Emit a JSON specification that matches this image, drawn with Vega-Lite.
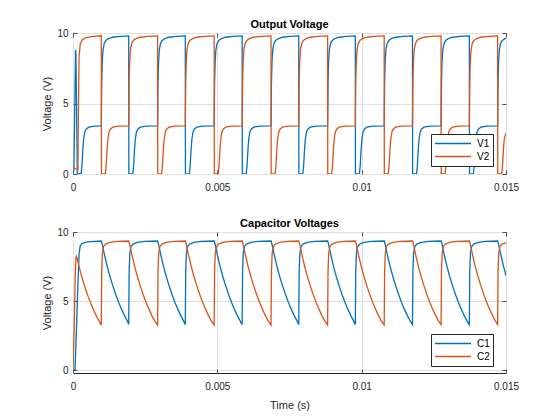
{
"$schema":"https://vega.github.io/schema/vega-lite/v6.json",
"background":"white",
"padding":{"left":41,"top":18,"right":5,"bottom":5},
"config":{
"font":"Liberation Sans",
"view":{"stroke":"#262626","strokeWidth":1},
"axis":{"labelFont":"Liberation Sans","labelFontSize":10,"labelColor":"#262626","titleFont":"Liberation Sans","titleFontSize":11,"titleFontWeight":"normal","titleColor":"#262626","domain":false,"tickColor":"#262626","tickSize":-4,"tickWidth":0.8,"labelPadding":9,"gridColor":"#e0e0e0","gridWidth":1,"labelFlush":false,"labelOverlap":false,"labelExpr":"'' + datum.value"},
"axisX":{"labelPadding":12,"titlePadding":8},
"title":{"font":"Liberation Sans","fontSize":11,"fontWeight":"bold","color":"black","offset":-2},
"legend":{"strokeColor":"#262626","fillColor":"white","padding":3,"labelFont":"Liberation Sans","labelFontSize":10,"labelColor":"black","symbolSize":1296,"symbolStrokeWidth":1.3,"clipHeight":13,"rowPadding":0,"labelOffset":5}
},
"spacing":24,
"resolve":{"scale":{"color":"independent"}},
"datasets":{
"out":[
{"t":0,"v":0,"s":"V1"},{"t":0.00003,"v":0.3,"s":"V1"},{"t":0.00009,"v":8.8,"s":"V1"},{"t":0.0001,"v":8.6,"s":"V1"},{"t":0.00015,"v":0.05,"s":"V1"},{"t":0.00028,"v":0,"s":"V1"},{"t":0.00031,"v":0.6,"s":"V1"},{"t":0.00034,"v":1.7,"s":"V1"},{"t":0.00037,"v":2.5,"s":"V1"},{"t":0.00041,"v":3.0,"s":"V1"},{"t":0.00046,"v":3.2,"s":"V1"},{"t":0.00055,"v":3.32,"s":"V1"},{"t":0.00075,"v":3.4,"s":"V1"},{"t":0.00098,"v":3.42,"s":"V1"},
{"t":0.000995,"v":6.5,"s":"V1"},{"t":0.001015,"v":8.0,"s":"V1"},{"t":0.00104,"v":8.8,"s":"V1"},{"t":0.00108,"v":9.25,"s":"V1"},{"t":0.00114,"v":9.48,"s":"V1"},{"t":0.00123,"v":9.6,"s":"V1"},{"t":0.00138,"v":9.7,"s":"V1"},{"t":0.00163,"v":9.76,"s":"V1"},{"t":0.00193,"v":9.8,"s":"V1"},
{"t":0.001935,"v":0,"s":"V1"},{"t":0.00207,"v":0,"s":"V1"},{"t":0.0021,"v":0.6,"s":"V1"},{"t":0.00213,"v":1.7,"s":"V1"},{"t":0.00216,"v":2.5,"s":"V1"},{"t":0.0022,"v":3.0,"s":"V1"},{"t":0.00225,"v":3.2,"s":"V1"},{"t":0.00233,"v":3.32,"s":"V1"},{"t":0.00253,"v":3.4,"s":"V1"},{"t":0.00293,"v":3.42,"s":"V1"},
{"t":0.002945,"v":6.5,"s":"V1"},{"t":0.002965,"v":8.0,"s":"V1"},{"t":0.00299,"v":8.8,"s":"V1"},{"t":0.00303,"v":9.25,"s":"V1"},{"t":0.00309,"v":9.48,"s":"V1"},{"t":0.00318,"v":9.6,"s":"V1"},{"t":0.00333,"v":9.7,"s":"V1"},{"t":0.00358,"v":9.76,"s":"V1"},{"t":0.00389,"v":9.8,"s":"V1"},
{"t":0.003895,"v":0,"s":"V1"},{"t":0.00403,"v":0,"s":"V1"},{"t":0.00406,"v":0.6,"s":"V1"},{"t":0.00409,"v":1.7,"s":"V1"},{"t":0.00412,"v":2.5,"s":"V1"},{"t":0.00416,"v":3.0,"s":"V1"},{"t":0.00421,"v":3.2,"s":"V1"},{"t":0.00429,"v":3.32,"s":"V1"},{"t":0.00449,"v":3.4,"s":"V1"},{"t":0.00489,"v":3.42,"s":"V1"},
{"t":0.004905,"v":6.5,"s":"V1"},{"t":0.004925,"v":8.0,"s":"V1"},{"t":0.00495,"v":8.8,"s":"V1"},{"t":0.00499,"v":9.25,"s":"V1"},{"t":0.00505,"v":9.48,"s":"V1"},{"t":0.00514,"v":9.6,"s":"V1"},{"t":0.00529,"v":9.7,"s":"V1"},{"t":0.00554,"v":9.76,"s":"V1"},{"t":0.00586,"v":9.8,"s":"V1"},
{"t":0.005865,"v":0,"s":"V1"},{"t":0.006,"v":0,"s":"V1"},{"t":0.00603,"v":0.6,"s":"V1"},{"t":0.00606,"v":1.7,"s":"V1"},{"t":0.00609,"v":2.5,"s":"V1"},{"t":0.00613,"v":3.0,"s":"V1"},{"t":0.00618,"v":3.2,"s":"V1"},{"t":0.00626,"v":3.32,"s":"V1"},{"t":0.00646,"v":3.4,"s":"V1"},{"t":0.00686,"v":3.42,"s":"V1"},
{"t":0.006875,"v":6.5,"s":"V1"},{"t":0.006895,"v":8.0,"s":"V1"},{"t":0.00692,"v":8.8,"s":"V1"},{"t":0.00696,"v":9.25,"s":"V1"},{"t":0.00702,"v":9.48,"s":"V1"},{"t":0.00711,"v":9.6,"s":"V1"},{"t":0.00726,"v":9.7,"s":"V1"},{"t":0.00751,"v":9.76,"s":"V1"},{"t":0.00782,"v":9.8,"s":"V1"},
{"t":0.007825,"v":0,"s":"V1"},{"t":0.00796,"v":0,"s":"V1"},{"t":0.00799,"v":0.6,"s":"V1"},{"t":0.00802,"v":1.7,"s":"V1"},{"t":0.00805,"v":2.5,"s":"V1"},{"t":0.00809,"v":3.0,"s":"V1"},{"t":0.00814,"v":3.2,"s":"V1"},{"t":0.00822,"v":3.32,"s":"V1"},{"t":0.00842,"v":3.4,"s":"V1"},{"t":0.00882,"v":3.42,"s":"V1"},
{"t":0.008835,"v":6.5,"s":"V1"},{"t":0.008855,"v":8.0,"s":"V1"},{"t":0.00888,"v":8.8,"s":"V1"},{"t":0.00892,"v":9.25,"s":"V1"},{"t":0.00898,"v":9.48,"s":"V1"},{"t":0.00907,"v":9.6,"s":"V1"},{"t":0.00922,"v":9.7,"s":"V1"},{"t":0.00947,"v":9.76,"s":"V1"},{"t":0.00978,"v":9.8,"s":"V1"},
{"t":0.009785,"v":0,"s":"V1"},{"t":0.00992,"v":0,"s":"V1"},{"t":0.00995,"v":0.6,"s":"V1"},{"t":0.00998,"v":1.7,"s":"V1"},{"t":0.01001,"v":2.5,"s":"V1"},{"t":0.01005,"v":3.0,"s":"V1"},{"t":0.0101,"v":3.2,"s":"V1"},{"t":0.01018,"v":3.32,"s":"V1"},{"t":0.01038,"v":3.4,"s":"V1"},{"t":0.01078,"v":3.42,"s":"V1"},
{"t":0.010795,"v":6.5,"s":"V1"},{"t":0.010815,"v":8.0,"s":"V1"},{"t":0.01084,"v":8.8,"s":"V1"},{"t":0.01088,"v":9.25,"s":"V1"},{"t":0.01094,"v":9.48,"s":"V1"},{"t":0.01103,"v":9.6,"s":"V1"},{"t":0.01118,"v":9.7,"s":"V1"},{"t":0.01143,"v":9.76,"s":"V1"},{"t":0.01176,"v":9.8,"s":"V1"},
{"t":0.011765,"v":0,"s":"V1"},{"t":0.0119,"v":0,"s":"V1"},{"t":0.01193,"v":0.6,"s":"V1"},{"t":0.01196,"v":1.7,"s":"V1"},{"t":0.01199,"v":2.5,"s":"V1"},{"t":0.01203,"v":3.0,"s":"V1"},{"t":0.01208,"v":3.2,"s":"V1"},{"t":0.01216,"v":3.32,"s":"V1"},{"t":0.01236,"v":3.4,"s":"V1"},{"t":0.01275,"v":3.42,"s":"V1"},
{"t":0.012765,"v":6.5,"s":"V1"},{"t":0.012785,"v":8.0,"s":"V1"},{"t":0.01281,"v":8.8,"s":"V1"},{"t":0.01285,"v":9.25,"s":"V1"},{"t":0.01291,"v":9.48,"s":"V1"},{"t":0.013,"v":9.6,"s":"V1"},{"t":0.01315,"v":9.7,"s":"V1"},{"t":0.0134,"v":9.76,"s":"V1"},{"t":0.01373,"v":9.8,"s":"V1"},
{"t":0.013735,"v":0,"s":"V1"},{"t":0.01387,"v":0,"s":"V1"},{"t":0.0139,"v":0.6,"s":"V1"},{"t":0.01393,"v":1.7,"s":"V1"},{"t":0.01396,"v":2.5,"s":"V1"},{"t":0.014,"v":3.0,"s":"V1"},{"t":0.01405,"v":3.2,"s":"V1"},{"t":0.01413,"v":3.32,"s":"V1"},{"t":0.01433,"v":3.4,"s":"V1"},{"t":0.01471,"v":3.42,"s":"V1"},
{"t":0.014725,"v":6.5,"s":"V1"},{"t":0.014745,"v":8.0,"s":"V1"},{"t":0.01477,"v":8.8,"s":"V1"},{"t":0.01481,"v":9.25,"s":"V1"},{"t":0.01487,"v":9.48,"s":"V1"},{"t":0.01496,"v":9.6,"s":"V1"},{"t":0.015,"v":9.63,"s":"V1"},
{"t":0,"v":0.6,"s":"V2"},{"t":0.00005,"v":0.4,"s":"V2"},{"t":0.00017,"v":0.3,"s":"V2"},{"t":0.00019,"v":5.0,"s":"V2"},{"t":0.00021,"v":8.3,"s":"V2"},{"t":0.00025,"v":9.2,"s":"V2"},{"t":0.00032,"v":9.5,"s":"V2"},{"t":0.00045,"v":9.68,"s":"V2"},{"t":0.0007,"v":9.76,"s":"V2"},{"t":0.00098,"v":9.8,"s":"V2"},
{"t":0.000985,"v":0,"s":"V2"},{"t":0.00112,"v":0,"s":"V2"},{"t":0.00115,"v":0.6,"s":"V2"},{"t":0.00118,"v":1.7,"s":"V2"},{"t":0.00121,"v":2.5,"s":"V2"},{"t":0.00125,"v":3.0,"s":"V2"},{"t":0.0013,"v":3.2,"s":"V2"},{"t":0.00138,"v":3.32,"s":"V2"},{"t":0.00158,"v":3.4,"s":"V2"},{"t":0.00193,"v":3.42,"s":"V2"},
{"t":0.001945,"v":6.5,"s":"V2"},{"t":0.001965,"v":8.0,"s":"V2"},{"t":0.00199,"v":8.8,"s":"V2"},{"t":0.00203,"v":9.25,"s":"V2"},{"t":0.00209,"v":9.48,"s":"V2"},{"t":0.00218,"v":9.6,"s":"V2"},{"t":0.00233,"v":9.7,"s":"V2"},{"t":0.00258,"v":9.76,"s":"V2"},{"t":0.00293,"v":9.8,"s":"V2"},
{"t":0.002935,"v":0,"s":"V2"},{"t":0.00307,"v":0,"s":"V2"},{"t":0.0031,"v":0.6,"s":"V2"},{"t":0.00313,"v":1.7,"s":"V2"},{"t":0.00316,"v":2.5,"s":"V2"},{"t":0.0032,"v":3.0,"s":"V2"},{"t":0.00325,"v":3.2,"s":"V2"},{"t":0.00333,"v":3.32,"s":"V2"},{"t":0.00353,"v":3.4,"s":"V2"},{"t":0.00389,"v":3.42,"s":"V2"},
{"t":0.003905,"v":6.5,"s":"V2"},{"t":0.003925,"v":8.0,"s":"V2"},{"t":0.00395,"v":8.8,"s":"V2"},{"t":0.00399,"v":9.25,"s":"V2"},{"t":0.00405,"v":9.48,"s":"V2"},{"t":0.00414,"v":9.6,"s":"V2"},{"t":0.00429,"v":9.7,"s":"V2"},{"t":0.00454,"v":9.76,"s":"V2"},{"t":0.00489,"v":9.8,"s":"V2"},
{"t":0.004895,"v":0,"s":"V2"},{"t":0.00503,"v":0,"s":"V2"},{"t":0.00506,"v":0.6,"s":"V2"},{"t":0.00509,"v":1.7,"s":"V2"},{"t":0.00512,"v":2.5,"s":"V2"},{"t":0.00516,"v":3.0,"s":"V2"},{"t":0.00521,"v":3.2,"s":"V2"},{"t":0.00529,"v":3.32,"s":"V2"},{"t":0.00549,"v":3.4,"s":"V2"},{"t":0.00586,"v":3.42,"s":"V2"},
{"t":0.005875,"v":6.5,"s":"V2"},{"t":0.005895,"v":8.0,"s":"V2"},{"t":0.00592,"v":8.8,"s":"V2"},{"t":0.00596,"v":9.25,"s":"V2"},{"t":0.00602,"v":9.48,"s":"V2"},{"t":0.00611,"v":9.6,"s":"V2"},{"t":0.00626,"v":9.7,"s":"V2"},{"t":0.00651,"v":9.76,"s":"V2"},{"t":0.00686,"v":9.8,"s":"V2"},
{"t":0.006865,"v":0,"s":"V2"},{"t":0.007,"v":0,"s":"V2"},{"t":0.00703,"v":0.6,"s":"V2"},{"t":0.00706,"v":1.7,"s":"V2"},{"t":0.00709,"v":2.5,"s":"V2"},{"t":0.00713,"v":3.0,"s":"V2"},{"t":0.00718,"v":3.2,"s":"V2"},{"t":0.00726,"v":3.32,"s":"V2"},{"t":0.00746,"v":3.4,"s":"V2"},{"t":0.00782,"v":3.42,"s":"V2"},
{"t":0.007835,"v":6.5,"s":"V2"},{"t":0.007855,"v":8.0,"s":"V2"},{"t":0.00788,"v":8.8,"s":"V2"},{"t":0.00792,"v":9.25,"s":"V2"},{"t":0.00798,"v":9.48,"s":"V2"},{"t":0.00807,"v":9.6,"s":"V2"},{"t":0.00822,"v":9.7,"s":"V2"},{"t":0.00847,"v":9.76,"s":"V2"},{"t":0.00882,"v":9.8,"s":"V2"},
{"t":0.008825,"v":0,"s":"V2"},{"t":0.00896,"v":0,"s":"V2"},{"t":0.00899,"v":0.6,"s":"V2"},{"t":0.00902,"v":1.7,"s":"V2"},{"t":0.00905,"v":2.5,"s":"V2"},{"t":0.00909,"v":3.0,"s":"V2"},{"t":0.00914,"v":3.2,"s":"V2"},{"t":0.00922,"v":3.32,"s":"V2"},{"t":0.00942,"v":3.4,"s":"V2"},{"t":0.00978,"v":3.42,"s":"V2"},
{"t":0.009795,"v":6.5,"s":"V2"},{"t":0.009815,"v":8.0,"s":"V2"},{"t":0.00984,"v":8.8,"s":"V2"},{"t":0.00988,"v":9.25,"s":"V2"},{"t":0.00994,"v":9.48,"s":"V2"},{"t":0.01003,"v":9.6,"s":"V2"},{"t":0.01018,"v":9.7,"s":"V2"},{"t":0.01043,"v":9.76,"s":"V2"},{"t":0.01078,"v":9.8,"s":"V2"},
{"t":0.010785,"v":0,"s":"V2"},{"t":0.01092,"v":0,"s":"V2"},{"t":0.01095,"v":0.6,"s":"V2"},{"t":0.01098,"v":1.7,"s":"V2"},{"t":0.01101,"v":2.5,"s":"V2"},{"t":0.01105,"v":3.0,"s":"V2"},{"t":0.0111,"v":3.2,"s":"V2"},{"t":0.01118,"v":3.32,"s":"V2"},{"t":0.01138,"v":3.4,"s":"V2"},{"t":0.01176,"v":3.42,"s":"V2"},
{"t":0.011775,"v":6.5,"s":"V2"},{"t":0.011795,"v":8.0,"s":"V2"},{"t":0.01182,"v":8.8,"s":"V2"},{"t":0.01186,"v":9.25,"s":"V2"},{"t":0.01192,"v":9.48,"s":"V2"},{"t":0.01201,"v":9.6,"s":"V2"},{"t":0.01216,"v":9.7,"s":"V2"},{"t":0.01241,"v":9.76,"s":"V2"},{"t":0.01275,"v":9.8,"s":"V2"},
{"t":0.012755,"v":0,"s":"V2"},{"t":0.01289,"v":0,"s":"V2"},{"t":0.01292,"v":0.6,"s":"V2"},{"t":0.01295,"v":1.7,"s":"V2"},{"t":0.01298,"v":2.5,"s":"V2"},{"t":0.01302,"v":3.0,"s":"V2"},{"t":0.01307,"v":3.2,"s":"V2"},{"t":0.01315,"v":3.32,"s":"V2"},{"t":0.01335,"v":3.4,"s":"V2"},{"t":0.01373,"v":3.42,"s":"V2"},
{"t":0.013745,"v":6.5,"s":"V2"},{"t":0.013765,"v":8.0,"s":"V2"},{"t":0.01379,"v":8.8,"s":"V2"},{"t":0.01383,"v":9.25,"s":"V2"},{"t":0.01389,"v":9.48,"s":"V2"},{"t":0.01398,"v":9.6,"s":"V2"},{"t":0.01413,"v":9.7,"s":"V2"},{"t":0.01438,"v":9.76,"s":"V2"},{"t":0.01471,"v":9.8,"s":"V2"},
{"t":0.014715,"v":0,"s":"V2"},{"t":0.01485,"v":0,"s":"V2"},{"t":0.01488,"v":0.6,"s":"V2"},{"t":0.01491,"v":1.7,"s":"V2"},{"t":0.01494,"v":2.5,"s":"V2"},{"t":0.015,"v":2.9,"s":"V2"}
],
"cap":[
{"t":0,"v":0,"s":"C1"},{"t":0.00007,"v":0.05,"s":"C1"},{"t":0.00012,"v":3.0,"s":"C1"},{"t":0.00017,"v":6.2,"s":"C1"},{"t":0.00021,"v":8.4,"s":"C1"},{"t":0.00025,"v":9.0,"s":"C1"},{"t":0.00032,"v":9.18,"s":"C1"},{"t":0.0005,"v":9.28,"s":"C1"},{"t":0.00098,"v":9.35,"s":"C1"},
{"t":0.00101,"v":9.15,"s":"C1"},{"t":0.00108,"v":8.45,"s":"C1"},{"t":0.00118,"v":7.55,"s":"C1"},{"t":0.00128,"v":6.78,"s":"C1"},{"t":0.00138,"v":6.1,"s":"C1"},{"t":0.00148,"v":5.48,"s":"C1"},{"t":0.00158,"v":4.92,"s":"C1"},{"t":0.00168,"v":4.42,"s":"C1"},{"t":0.00178,"v":3.97,"s":"C1"},{"t":0.00188,"v":3.57,"s":"C1"},{"t":0.00193,"v":3.3,"s":"C1"},
{"t":0.001945,"v":7.2,"s":"C1"},{"t":0.00197,"v":8.5,"s":"C1"},{"t":0.00201,"v":8.95,"s":"C1"},{"t":0.00208,"v":9.12,"s":"C1"},{"t":0.00223,"v":9.25,"s":"C1"},{"t":0.00248,"v":9.32,"s":"C1"},{"t":0.00293,"v":9.35,"s":"C1"},
{"t":0.00296,"v":9.15,"s":"C1"},{"t":0.00303,"v":8.45,"s":"C1"},{"t":0.00313,"v":7.55,"s":"C1"},{"t":0.00323,"v":6.78,"s":"C1"},{"t":0.00333,"v":6.1,"s":"C1"},{"t":0.00343,"v":5.48,"s":"C1"},{"t":0.00353,"v":4.92,"s":"C1"},{"t":0.00363,"v":4.42,"s":"C1"},{"t":0.00373,"v":3.97,"s":"C1"},{"t":0.00383,"v":3.57,"s":"C1"},{"t":0.00389,"v":3.3,"s":"C1"},
{"t":0.003905,"v":7.2,"s":"C1"},{"t":0.00393,"v":8.5,"s":"C1"},{"t":0.00397,"v":8.95,"s":"C1"},{"t":0.00404,"v":9.12,"s":"C1"},{"t":0.00419,"v":9.25,"s":"C1"},{"t":0.00444,"v":9.32,"s":"C1"},{"t":0.00489,"v":9.35,"s":"C1"},
{"t":0.00492,"v":9.15,"s":"C1"},{"t":0.00499,"v":8.45,"s":"C1"},{"t":0.00509,"v":7.55,"s":"C1"},{"t":0.00519,"v":6.78,"s":"C1"},{"t":0.00529,"v":6.1,"s":"C1"},{"t":0.00539,"v":5.48,"s":"C1"},{"t":0.00549,"v":4.92,"s":"C1"},{"t":0.00559,"v":4.42,"s":"C1"},{"t":0.00569,"v":3.97,"s":"C1"},{"t":0.00579,"v":3.57,"s":"C1"},{"t":0.00586,"v":3.3,"s":"C1"},
{"t":0.005875,"v":7.2,"s":"C1"},{"t":0.0059,"v":8.5,"s":"C1"},{"t":0.00594,"v":8.95,"s":"C1"},{"t":0.00601,"v":9.12,"s":"C1"},{"t":0.00616,"v":9.25,"s":"C1"},{"t":0.00641,"v":9.32,"s":"C1"},{"t":0.00686,"v":9.35,"s":"C1"},
{"t":0.00689,"v":9.15,"s":"C1"},{"t":0.00696,"v":8.45,"s":"C1"},{"t":0.00706,"v":7.55,"s":"C1"},{"t":0.00716,"v":6.78,"s":"C1"},{"t":0.00726,"v":6.1,"s":"C1"},{"t":0.00736,"v":5.48,"s":"C1"},{"t":0.00746,"v":4.92,"s":"C1"},{"t":0.00756,"v":4.42,"s":"C1"},{"t":0.00766,"v":3.97,"s":"C1"},{"t":0.00776,"v":3.57,"s":"C1"},{"t":0.00782,"v":3.3,"s":"C1"},
{"t":0.007835,"v":7.2,"s":"C1"},{"t":0.00786,"v":8.5,"s":"C1"},{"t":0.0079,"v":8.95,"s":"C1"},{"t":0.00797,"v":9.12,"s":"C1"},{"t":0.00812,"v":9.25,"s":"C1"},{"t":0.00837,"v":9.32,"s":"C1"},{"t":0.00882,"v":9.35,"s":"C1"},
{"t":0.00885,"v":9.15,"s":"C1"},{"t":0.00892,"v":8.45,"s":"C1"},{"t":0.00902,"v":7.55,"s":"C1"},{"t":0.00912,"v":6.78,"s":"C1"},{"t":0.00922,"v":6.1,"s":"C1"},{"t":0.00932,"v":5.48,"s":"C1"},{"t":0.00942,"v":4.92,"s":"C1"},{"t":0.00952,"v":4.42,"s":"C1"},{"t":0.00962,"v":3.97,"s":"C1"},{"t":0.00972,"v":3.57,"s":"C1"},{"t":0.00978,"v":3.3,"s":"C1"},
{"t":0.009795,"v":7.2,"s":"C1"},{"t":0.00982,"v":8.5,"s":"C1"},{"t":0.00986,"v":8.95,"s":"C1"},{"t":0.00993,"v":9.12,"s":"C1"},{"t":0.01008,"v":9.25,"s":"C1"},{"t":0.01033,"v":9.32,"s":"C1"},{"t":0.01078,"v":9.35,"s":"C1"},
{"t":0.01081,"v":9.15,"s":"C1"},{"t":0.01088,"v":8.45,"s":"C1"},{"t":0.01098,"v":7.55,"s":"C1"},{"t":0.01108,"v":6.78,"s":"C1"},{"t":0.01118,"v":6.1,"s":"C1"},{"t":0.01128,"v":5.48,"s":"C1"},{"t":0.01138,"v":4.92,"s":"C1"},{"t":0.01148,"v":4.42,"s":"C1"},{"t":0.01158,"v":3.97,"s":"C1"},{"t":0.01168,"v":3.57,"s":"C1"},{"t":0.01176,"v":3.3,"s":"C1"},
{"t":0.011775,"v":7.2,"s":"C1"},{"t":0.0118,"v":8.5,"s":"C1"},{"t":0.01184,"v":8.95,"s":"C1"},{"t":0.01191,"v":9.12,"s":"C1"},{"t":0.01206,"v":9.25,"s":"C1"},{"t":0.01231,"v":9.32,"s":"C1"},{"t":0.01275,"v":9.35,"s":"C1"},
{"t":0.01278,"v":9.15,"s":"C1"},{"t":0.01285,"v":8.45,"s":"C1"},{"t":0.01295,"v":7.55,"s":"C1"},{"t":0.01305,"v":6.78,"s":"C1"},{"t":0.01315,"v":6.1,"s":"C1"},{"t":0.01325,"v":5.48,"s":"C1"},{"t":0.01335,"v":4.92,"s":"C1"},{"t":0.01345,"v":4.42,"s":"C1"},{"t":0.01355,"v":3.97,"s":"C1"},{"t":0.01365,"v":3.57,"s":"C1"},{"t":0.01373,"v":3.3,"s":"C1"},
{"t":0.013745,"v":7.2,"s":"C1"},{"t":0.01377,"v":8.5,"s":"C1"},{"t":0.01381,"v":8.95,"s":"C1"},{"t":0.01388,"v":9.12,"s":"C1"},{"t":0.01403,"v":9.25,"s":"C1"},{"t":0.01428,"v":9.32,"s":"C1"},{"t":0.01471,"v":9.35,"s":"C1"},
{"t":0.01474,"v":9.15,"s":"C1"},{"t":0.01481,"v":8.45,"s":"C1"},{"t":0.01491,"v":7.55,"s":"C1"},{"t":0.015,"v":6.85,"s":"C1"},
{"t":0,"v":0,"s":"C2"},{"t":0.00004,"v":3.0,"s":"C2"},{"t":0.00008,"v":7.0,"s":"C2"},{"t":0.0001,"v":8.15,"s":"C2"},{"t":0.00012,"v":8.25,"s":"C2"},{"t":0.00022,"v":7.41,"s":"C2"},{"t":0.00032,"v":6.65,"s":"C2"},{"t":0.00042,"v":5.97,"s":"C2"},{"t":0.00052,"v":5.36,"s":"C2"},{"t":0.00062,"v":4.82,"s":"C2"},{"t":0.00072,"v":4.33,"s":"C2"},{"t":0.00082,"v":3.89,"s":"C2"},{"t":0.00092,"v":3.5,"s":"C2"},{"t":0.00098,"v":3.25,"s":"C2"},
{"t":0.000995,"v":7.2,"s":"C2"},{"t":0.00102,"v":8.5,"s":"C2"},{"t":0.00106,"v":8.95,"s":"C2"},{"t":0.00113,"v":9.12,"s":"C2"},{"t":0.00128,"v":9.25,"s":"C2"},{"t":0.00153,"v":9.32,"s":"C2"},{"t":0.00193,"v":9.35,"s":"C2"},
{"t":0.00196,"v":9.15,"s":"C2"},{"t":0.00203,"v":8.45,"s":"C2"},{"t":0.00213,"v":7.55,"s":"C2"},{"t":0.00223,"v":6.78,"s":"C2"},{"t":0.00233,"v":6.1,"s":"C2"},{"t":0.00243,"v":5.48,"s":"C2"},{"t":0.00253,"v":4.92,"s":"C2"},{"t":0.00263,"v":4.42,"s":"C2"},{"t":0.00273,"v":3.97,"s":"C2"},{"t":0.00283,"v":3.57,"s":"C2"},{"t":0.00293,"v":3.28,"s":"C2"},
{"t":0.002945,"v":7.2,"s":"C2"},{"t":0.00297,"v":8.5,"s":"C2"},{"t":0.00301,"v":8.95,"s":"C2"},{"t":0.00308,"v":9.12,"s":"C2"},{"t":0.00323,"v":9.25,"s":"C2"},{"t":0.00348,"v":9.32,"s":"C2"},{"t":0.00389,"v":9.35,"s":"C2"},
{"t":0.00392,"v":9.15,"s":"C2"},{"t":0.00399,"v":8.45,"s":"C2"},{"t":0.00409,"v":7.55,"s":"C2"},{"t":0.00419,"v":6.78,"s":"C2"},{"t":0.00429,"v":6.1,"s":"C2"},{"t":0.00439,"v":5.48,"s":"C2"},{"t":0.00449,"v":4.92,"s":"C2"},{"t":0.00459,"v":4.42,"s":"C2"},{"t":0.00469,"v":3.97,"s":"C2"},{"t":0.00479,"v":3.57,"s":"C2"},{"t":0.00489,"v":3.28,"s":"C2"},
{"t":0.004905,"v":7.2,"s":"C2"},{"t":0.00493,"v":8.5,"s":"C2"},{"t":0.00497,"v":8.95,"s":"C2"},{"t":0.00504,"v":9.12,"s":"C2"},{"t":0.00519,"v":9.25,"s":"C2"},{"t":0.00544,"v":9.32,"s":"C2"},{"t":0.00586,"v":9.35,"s":"C2"},
{"t":0.00589,"v":9.15,"s":"C2"},{"t":0.00596,"v":8.45,"s":"C2"},{"t":0.00606,"v":7.55,"s":"C2"},{"t":0.00616,"v":6.78,"s":"C2"},{"t":0.00626,"v":6.1,"s":"C2"},{"t":0.00636,"v":5.48,"s":"C2"},{"t":0.00646,"v":4.92,"s":"C2"},{"t":0.00656,"v":4.42,"s":"C2"},{"t":0.00666,"v":3.97,"s":"C2"},{"t":0.00676,"v":3.57,"s":"C2"},{"t":0.00686,"v":3.28,"s":"C2"},
{"t":0.006875,"v":7.2,"s":"C2"},{"t":0.0069,"v":8.5,"s":"C2"},{"t":0.00694,"v":8.95,"s":"C2"},{"t":0.00701,"v":9.12,"s":"C2"},{"t":0.00716,"v":9.25,"s":"C2"},{"t":0.00741,"v":9.32,"s":"C2"},{"t":0.00782,"v":9.35,"s":"C2"},
{"t":0.00785,"v":9.15,"s":"C2"},{"t":0.00792,"v":8.45,"s":"C2"},{"t":0.00802,"v":7.55,"s":"C2"},{"t":0.00812,"v":6.78,"s":"C2"},{"t":0.00822,"v":6.1,"s":"C2"},{"t":0.00832,"v":5.48,"s":"C2"},{"t":0.00842,"v":4.92,"s":"C2"},{"t":0.00852,"v":4.42,"s":"C2"},{"t":0.00862,"v":3.97,"s":"C2"},{"t":0.00872,"v":3.57,"s":"C2"},{"t":0.00882,"v":3.28,"s":"C2"},
{"t":0.008835,"v":7.2,"s":"C2"},{"t":0.00886,"v":8.5,"s":"C2"},{"t":0.0089,"v":8.95,"s":"C2"},{"t":0.00897,"v":9.12,"s":"C2"},{"t":0.00912,"v":9.25,"s":"C2"},{"t":0.00937,"v":9.32,"s":"C2"},{"t":0.00978,"v":9.35,"s":"C2"},
{"t":0.00981,"v":9.15,"s":"C2"},{"t":0.00988,"v":8.45,"s":"C2"},{"t":0.00998,"v":7.55,"s":"C2"},{"t":0.01008,"v":6.78,"s":"C2"},{"t":0.01018,"v":6.1,"s":"C2"},{"t":0.01028,"v":5.48,"s":"C2"},{"t":0.01038,"v":4.92,"s":"C2"},{"t":0.01048,"v":4.42,"s":"C2"},{"t":0.01058,"v":3.97,"s":"C2"},{"t":0.01068,"v":3.57,"s":"C2"},{"t":0.01078,"v":3.28,"s":"C2"},
{"t":0.010795,"v":7.2,"s":"C2"},{"t":0.01082,"v":8.5,"s":"C2"},{"t":0.01086,"v":8.95,"s":"C2"},{"t":0.01093,"v":9.12,"s":"C2"},{"t":0.01108,"v":9.25,"s":"C2"},{"t":0.01133,"v":9.32,"s":"C2"},{"t":0.01176,"v":9.35,"s":"C2"},
{"t":0.01179,"v":9.15,"s":"C2"},{"t":0.01186,"v":8.45,"s":"C2"},{"t":0.01196,"v":7.55,"s":"C2"},{"t":0.01206,"v":6.78,"s":"C2"},{"t":0.01216,"v":6.1,"s":"C2"},{"t":0.01226,"v":5.48,"s":"C2"},{"t":0.01236,"v":4.92,"s":"C2"},{"t":0.01246,"v":4.42,"s":"C2"},{"t":0.01256,"v":3.97,"s":"C2"},{"t":0.01266,"v":3.57,"s":"C2"},{"t":0.01275,"v":3.3,"s":"C2"},
{"t":0.012765,"v":7.2,"s":"C2"},{"t":0.01279,"v":8.5,"s":"C2"},{"t":0.01283,"v":8.95,"s":"C2"},{"t":0.0129,"v":9.12,"s":"C2"},{"t":0.01305,"v":9.25,"s":"C2"},{"t":0.0133,"v":9.32,"s":"C2"},{"t":0.01373,"v":9.35,"s":"C2"},
{"t":0.01376,"v":9.15,"s":"C2"},{"t":0.01383,"v":8.45,"s":"C2"},{"t":0.01393,"v":7.55,"s":"C2"},{"t":0.01403,"v":6.78,"s":"C2"},{"t":0.01413,"v":6.1,"s":"C2"},{"t":0.01423,"v":5.48,"s":"C2"},{"t":0.01433,"v":4.92,"s":"C2"},{"t":0.01443,"v":4.42,"s":"C2"},{"t":0.01453,"v":3.97,"s":"C2"},{"t":0.01463,"v":3.57,"s":"C2"},{"t":0.01471,"v":3.3,"s":"C2"},
{"t":0.014725,"v":7.2,"s":"C2"},{"t":0.01475,"v":8.5,"s":"C2"},{"t":0.01479,"v":8.95,"s":"C2"},{"t":0.01486,"v":9.12,"s":"C2"},{"t":0.015,"v":9.22,"s":"C2"}
]
},
"vconcat":[
{
"width":433,"height":141,
"title":{"text":"Output Voltage"},
"data":{"name":"out"},
"layer":[
{"mark":{"type":"line","strokeWidth":1.3,"clip":true},
"encoding":{
"x":{"field":"t","type":"quantitative","scale":{"domain":[0,0.015],"nice":false},"axis":{"values":[0,0.005,0.01,0.015],"title":null,"grid":true}},
"y":{"field":"v","type":"quantitative","scale":{"domain":[0,10],"nice":false},"axis":{"values":[0,5,10],"title":"Voltage (V)","grid":true}},
"color":{"field":"s","type":"nominal","scale":{"domain":["V1","V2"],"range":["#0072BD","#D95319"]},"legend":{"title":null,"orient":"none","legendX":358,"legendY":101}}
}},
{"data":{"values":[{"t":0,"v":0}]},"mark":{"type":"point","opacity":0},
"encoding":{
"x":{"field":"t","type":"quantitative","axis":{"orient":"top","values":[0,0.005,0.01,0.015],"labels":false,"grid":false,"title":null,"minExtent":0}},
"y":{"field":"v","type":"quantitative","axis":{"orient":"right","values":[0,5,10],"labels":false,"grid":false,"title":null,"minExtent":0}}
}}
],
"resolve":{"axis":{"x":"independent","y":"independent"}}
},
{
"width":433,"height":141,
"title":{"text":"Capacitor Voltages"},
"data":{"name":"cap"},
"layer":[
{"mark":{"type":"line","strokeWidth":1.3,"clip":true},
"encoding":{
"x":{"field":"t","type":"quantitative","scale":{"domain":[0,0.015],"nice":false},"axis":{"values":[0,0.005,0.01,0.015],"title":"Time (s)","grid":true}},
"y":{"field":"v","type":"quantitative","scale":{"domain":[-0.2,10],"nice":false},"axis":{"values":[0,5,10],"title":"Voltage (V)","grid":true}},
"color":{"field":"s","type":"nominal","scale":{"domain":["C1","C2"],"range":["#0072BD","#D95319"]},"legend":{"title":null,"orient":"none","legendX":358,"legendY":102}}
}},
{"data":{"values":[{"t":0,"v":0}]},"mark":{"type":"point","opacity":0},
"encoding":{
"x":{"field":"t","type":"quantitative","axis":{"orient":"top","values":[0,0.005,0.01,0.015],"labels":false,"grid":false,"title":null,"minExtent":0}},
"y":{"field":"v","type":"quantitative","axis":{"orient":"right","values":[0,5,10],"labels":false,"grid":false,"title":null,"minExtent":0}}
}}
],
"resolve":{"axis":{"x":"independent","y":"independent"}}
}
]
}
